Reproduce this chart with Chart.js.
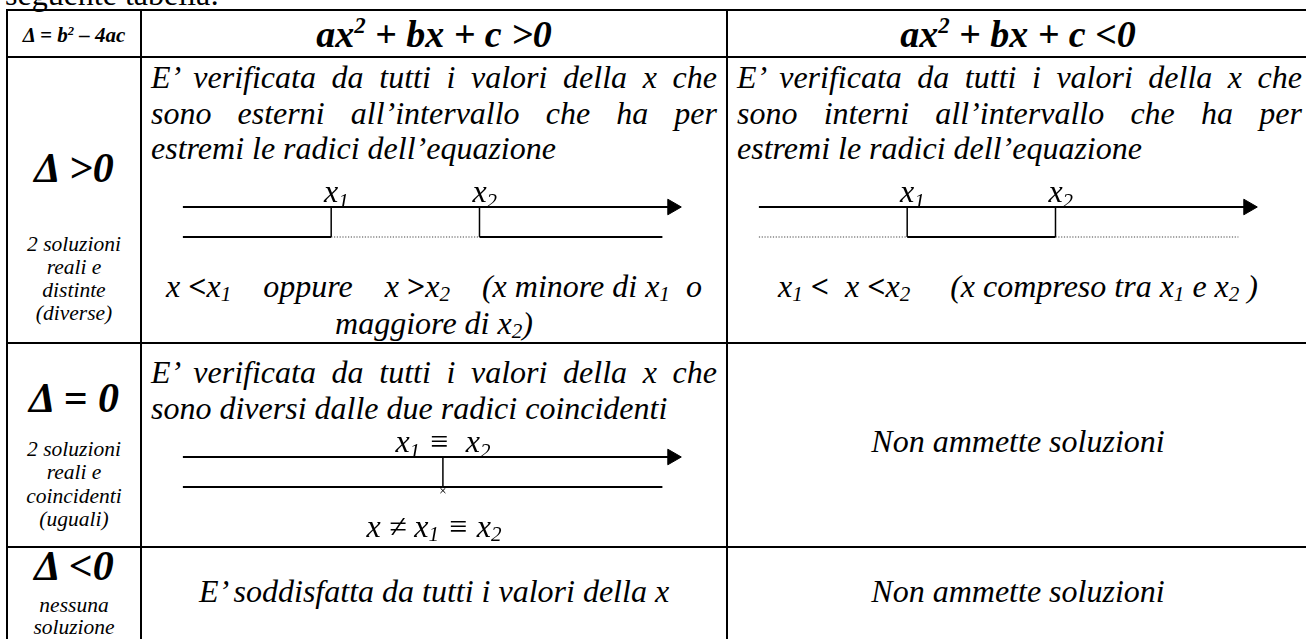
<!DOCTYPE html>
<html>
<head>
<meta charset="utf-8">
<script src="https://cdn.jsdelivr.net/npm/chart.js@4.4.1/dist/chart.umd.min.js"></script>
<style>
html, body { margin: 0; padding: 0; background: #fff; }
body { width: 1306px; height: 639px; overflow: hidden; position: relative;
  font-family: "Liberation Serif", Tinos, "Times New Roman", Times, "DejaVu Serif", serif; color: #000; }
.t { position: absolute; line-height: 1; white-space: nowrap; font-size: 32px; font-style: italic; }
.j { text-align: justify; text-align-last: justify; white-space: normal; }
.c { text-align: center; }
.b { font-weight: bold; }
.s { font-size: 21.5px; }
.big { font-size: 42px; }
.hd { font-size: 38px; }
.h { position: absolute; background: #000; height: 2px; left: 6px; width: 1300px; }
.v { position: absolute; background: #000; width: 2px; top: 9px; height: 630px; }
sub { font-size: 0.66em; line-height: 0; vertical-align: baseline; position: relative; top: 0.18em; }
sup { font-size: 0.6em; line-height: 0; vertical-align: baseline; position: relative; top: -0.62em; }
.rel { font-style: normal; font-weight: bold; }
canvas { position: absolute; }
</style>
</head>
<body>

<!-- griglia della tabella -->
<div class="h" style="top:9px"></div>
<div class="h" style="top:56px"></div>
<div class="h" style="top:342px"></div>
<div class="h" style="top:546px"></div>
<div class="v" style="left:6px"></div>
<div class="v" style="left:140px"></div>
<div class="v" style="left:726px"></div>

<div class="t" style="left:5px;font-style:normal" data-b="5">seguente tabella:</div>

<!-- intestazione -->
<div class="t b c" style="left:8px;width:132px;font-size:21px" data-b="43">Δ = b<sup>2</sup> – 4ac</div>
<div class="t b c hd" style="left:142px;width:584px" data-b="47">ax<sup>2</sup> + bx + c &gt;0</div>
<div class="t b c hd" style="left:728px;width:580px" data-b="47">ax<sup>2</sup> + bx + c &lt;0</div>

<!-- delta > 0 -->
<div class="t b c big" style="left:8px;width:132px" data-b="182">Δ &gt;0</div>
<div class="t s c" style="left:8px;width:132px" data-b="252">2 soluzioni</div>
<div class="t s c" style="left:8px;width:132px" data-b="275">reali e</div>
<div class="t s c" style="left:8px;width:132px" data-b="298">distinte</div>
<div class="t s c" style="left:8px;width:132px" data-b="321">(diverse)</div>

<div class="t j" style="left:151px;width:566px" data-b="88">E’ verificata da tutti i valori della x che</div>
<div class="t j" style="left:151px;width:566px" data-b="123.5">sono esterni all’intervallo che ha per</div>
<div class="t" style="left:151px" data-b="159">estremi le radici dell’equazione</div>
<canvas id="nlA" width="544" height="86" style="left:163px;top:173px"></canvas>
<div class="t c" style="left:142px;width:584px" data-b="297">x <span class="rel">&lt;</span>x<sub>1</sub>&nbsp;&nbsp;&nbsp; oppure &nbsp;&nbsp;&nbsp;x <span class="rel">&gt;</span>x<sub>2</sub>&nbsp;&nbsp;&nbsp; (x minore di x<sub>1</sub>&nbsp; o</div>
<div class="t c" style="left:142px;width:584px" data-b="334">maggiore di x<sub>2</sub>)</div>

<div class="t j" style="left:737px;width:565px" data-b="88">E’ verificata da tutti i valori della x che</div>
<div class="t j" style="left:737px;width:565px" data-b="123.5">sono interni all’intervallo che ha per</div>
<div class="t" style="left:737px" data-b="159">estremi le radici dell’equazione</div>
<canvas id="nlB" width="544" height="86" style="left:739px;top:173px"></canvas>
<div class="t c" style="left:728px;width:580px" data-b="297">x<sub>1</sub> <span class="rel">&lt;</span>&nbsp; x <span class="rel">&lt;</span>x<sub>2</sub>&nbsp;&nbsp;&nbsp;&nbsp; (x compreso tra x<sub>1</sub> e x<sub>2</sub> )</div>

<!-- delta = 0 -->
<div class="t b c big" style="left:8px;width:132px" data-b="412">Δ = 0</div>
<div class="t s c" style="left:8px;width:132px" data-b="457">2 soluzioni</div>
<div class="t s c" style="left:8px;width:132px" data-b="480.5">reali e</div>
<div class="t s c" style="left:8px;width:132px" data-b="504">coincidenti</div>
<div class="t s c" style="left:8px;width:132px" data-b="527.5">(uguali)</div>

<div class="t j" style="left:151px;width:566px" data-b="383">E’ verificata da tutti i valori della x che</div>
<div class="t" style="left:151px" data-b="418.5">sono diversi dalle due radici coincidenti</div>
<canvas id="nlC" width="544" height="86" style="left:163px;top:423px"></canvas>
<div class="t c" style="left:142px;width:584px" data-b="537">x ≠ x<sub>1</sub> ≡ x<sub>2</sub></div>

<div class="t c" style="left:728px;width:580px" data-b="452">Non ammette soluzioni</div>

<!-- delta < 0 -->
<div class="t b c big" style="left:8px;width:132px" data-b="580">Δ &lt;0</div>
<div class="t s c" style="left:8px;width:132px" data-b="613">nessuna</div>
<div class="t s c" style="left:8px;width:132px" data-b="635">soluzione</div>
<div class="t c" style="left:142px;width:584px" data-b="602">E’ soddisfatta da tutti i valori della x</div>
<div class="t c" style="left:728px;width:580px" data-b="602">Non ammette soluzioni</div>

<script>
// retta dei numeri: posizioni delle radici e segno del trinomio
const axisStart = 0;
const axisEnd = 9.9;
const signEnd = 9.7;
const distinctRoots = [3, 6];
const distinctLabels = ['x_1', 'x_2'];
const positiveSign = [true, false, true];   // ax²+bx+c > 0
const negativeSign = [false, true, false];  // ax²+bx+c < 0
const doubleRoot = [5.26];
const doubleLabels = ['x_1 ≡  x_2'];
const doubleSign = [true, true];

const serif = '"Liberation Serif", Tinos, "Times New Roman", Times, "DejaVu Serif", serif';

// posiziona i testi sulla loro linea di base
document.querySelectorAll('.t').forEach(el => {
  const fs = parseFloat(getComputedStyle(el).fontSize);
  el.style.top = (parseFloat(el.dataset.b) - 0.8375 * fs) + 'px';
});

// etichette x1, x2 sopra le radici
const rootLabels = {
  id: 'rootLabels',
  afterDatasetsDraw(chart, args, opts) {
    const ctx = chart.ctx;
    const xs = chart.scales.x, ys = chart.scales.y;
    const fMain = 'italic 32px ' + serif;
    const fSub = 'italic 21px ' + serif;
    ctx.save();
    ctx.fillStyle = '#000';
    ctx.textBaseline = 'alphabetic';
    opts.roots.forEach((r, i) => {
      const runs = opts.labels[i].split(/_(\d)/);
      let w = 0;
      runs.forEach((s, k) => { ctx.font = k % 2 ? fSub : fMain; w += ctx.measureText(s).width; });
      ctx.font = fMain;
      let px = xs.getPixelForValue(r) - (opts.anchor === 'first' ? ctx.measureText(runs[0]).width / 2 : w / 2);
      const base = ys.getPixelForValue(opts.y);
      runs.forEach((s, k) => {
        ctx.font = k % 2 ? fSub : fMain;
        ctx.fillText(s, px, base + (k % 2 ? 6 : 0));
        px += ctx.measureText(s).width;
      });
    });
    ctx.restore();
  }
};

function buildDatasets(roots, signs, excluded) {
  const ds = [];
  // asse orientato con freccia
  ds.push({
    data: [{x: axisStart, y: 1}, {x: axisEnd, y: 1}],
    showLine: true, borderColor: '#000', borderWidth: 2,
    pointRadius: [0, 9], pointStyle: 'triangle', pointRotation: 90,
    pointBackgroundColor: '#000', pointBorderColor: '#000', pointBorderWidth: 1
  });
  const bounds = [axisStart, ...roots, signEnd];
  signs.forEach((ok, i) => {
    ds.push({
      data: [{x: bounds[i], y: 0}, {x: bounds[i + 1], y: 0}],
      showLine: true, pointRadius: 0,
      borderColor: ok ? '#000' : '#444', borderWidth: ok ? 2 : 1.2,
      borderDash: ok ? [] : [1.2, 1.6]
    });
  });
  roots.forEach(r => ds.push({
    data: [{x: r, y: 0}, {x: r, y: 1}],
    showLine: true, pointRadius: 0, borderColor: '#000', borderWidth: 1.5
  }));
  (excluded || []).forEach(r => ds.push({
    data: [{x: r, y: -0.12}],
    showLine: false, pointStyle: 'crossRot', pointRadius: 3.5,
    pointBorderColor: '#000', pointBorderWidth: 1
  }));
  return ds;
}

function numberLine(id, roots, labels, signs, excluded, anchor) {
  new Chart(document.getElementById(id), {
    type: 'scatter',
    data: { datasets: buildDatasets(roots, signs, excluded) },
    options: {
      responsive: false,
      animation: false,
      events: [],
      layout: { padding: 0 },
      scales: {
        x: { type: 'linear', display: false, min: -0.2, max: 10.4 },
        y: { type: 'linear', display: false, min: -0.4, max: 1.8 }
      },
      plugins: {
        legend: { display: false },
        tooltip: { enabled: false },
        rootLabels: { roots: roots, labels: labels, y: 1.18, anchor: anchor }
      }
    },
    plugins: [rootLabels]
  });
}

numberLine('nlA', distinctRoots, distinctLabels, positiveSign, null, 'first');
numberLine('nlB', distinctRoots, distinctLabels, negativeSign, null, 'first');
numberLine('nlC', doubleRoot, doubleLabels, doubleSign, doubleRoot, 'center');
</script>
</body>
</html>
